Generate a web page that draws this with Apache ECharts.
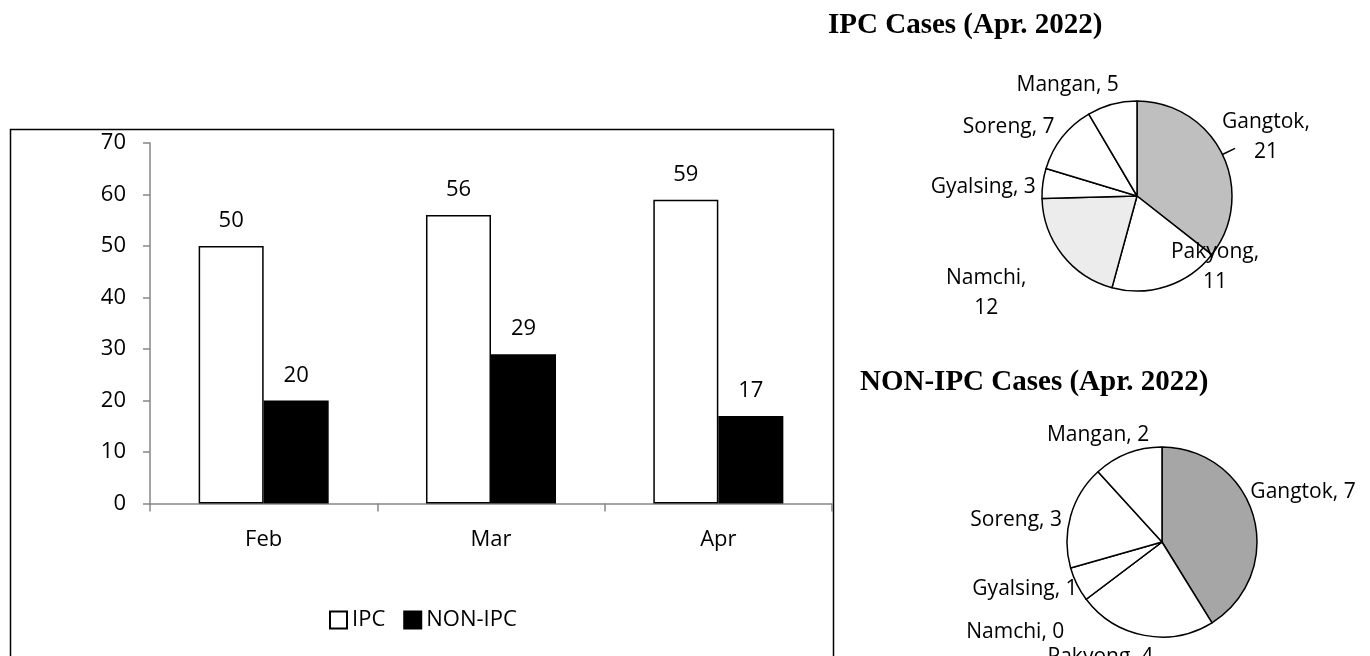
<!DOCTYPE html>
<html>
<head>
<meta charset="utf-8">
<script src="https://cdn.jsdelivr.net/npm/echarts@6/dist/echarts.min.js"></script>
<style>
html,body{margin:0;padding:0;background:#fff;}
#c{width:1370px;height:656px;}
</style>
</head>
<body>
<div id="c"></div>
<script>
// ---- data ----
const months = ['Feb', 'Mar', 'Apr'];
const ipcValues = [50, 56, 59];
const nonIpcValues = [20, 29, 17];
const yTicks = [0, 10, 20, 30, 40, 50, 60, 70];

const districts = ['Gangtok', 'Pakyong', 'Namchi', 'Gyalsing', 'Soreng', 'Mangan'];
const ipcApr = [21, 11, 12, 3, 7, 5];
const nonIpcApr = [7, 4, 0, 1, 3, 2];

const ipcTitle = 'IPC Cases (Apr. 2022)';
const nonIpcTitle = 'NON-IPC Cases (Apr. 2022)';

// ---- styling ----
const FONT = '"Open Sans", sans-serif';
const FS = 22;
const PFS = 21;
const SERIF = '"Liberation Serif", "Times New Roman", serif';
const ipcPieColors = ['#bfbfbf', '#ffffff', '#ececec', '#ffffff', '#ffffff', '#ffffff'];
const nonIpcPieColors = ['#a6a6a6', '#ffffff', '#ffffff', '#ffffff', '#ffffff', '#ffffff'];
const ipcWrap = ['Gangtok', 'Pakyong', 'Namchi'];
const ipcLineLen = [14, -22, 48, 4, 6, 12];
const nonIpcLineLen = [0, 18, 50, 6, 8, 18];
// fine label nudges (Excel-like label placement)
const ipcLabelDx = [-18, 6, 7, 2, 2, 15];
const ipcLabelDy = [-11, 2, 9, 4, -7, -8];
const nonIpcLabelDx = [-8, 17, 23, 11, 4, 33];
const nonIpcLabelDy = [-24, 4, 3, 2, 6, -2];

function pieData(vals, colors, lens, leaderFirst) {
  return districts.map((d, i) => ({
    name: d, value: vals[i],
    itemStyle: { color: colors[i] },
    labelLine: { show: leaderFirst && i === 0, length: lens[i], length2: 0,
      lineStyle: { color: '#000', width: 1.5 } }
  }));
}

const chart = echarts.init(document.getElementById('c'), null, { renderer: 'canvas' });

const option = {
  backgroundColor: '#ffffff',
  animation: false,
  textStyle: { fontFamily: FONT, color: '#000' },
  title: [
    { text: ipcTitle, left: 823, top: 6,
      textStyle: { fontFamily: SERIF, fontWeight: 'bold', fontSize: 29, color: '#000' } },
    { text: nonIpcTitle, left: 855, top: 363,
      textStyle: { fontFamily: SERIF, fontWeight: 'bold', fontSize: 29, color: '#000' } }
  ],
  graphic: [
    { type: 'rect', left: 8, top: 127, shape: { width: 823, height: 528 },
      style: { fill: 'none', stroke: '#000', lineWidth: 1.5 }, silent: true, z: -1 }
  ],
  legend: {
    data: ['IPC', 'NON-IPC'],
    left: 324, top: 604,
    itemWidth: 17, itemHeight: 17, itemGap: 18,
    icon: 'rect',
    textStyle: { fontFamily: FONT, fontSize: FS, color: '#000' }
  },
  grid: { left: 150, right: 538, top: 143, bottom: 152.5, containLabel: false },
  xAxis: {
    type: 'category', data: months,
    axisLine: { lineStyle: { color: '#868686', width: 1.5 } },
    axisTick: { show: true, length: 8, lineStyle: { color: '#868686', width: 1.5 } },
    axisLabel: { fontFamily: FONT, fontSize: FS, color: '#000', margin: 25 }
  },
  yAxis: {
    type: 'value', min: yTicks[0], max: yTicks[yTicks.length - 1], interval: 10,
    axisLine: { show: true, lineStyle: { color: '#868686', width: 1.5 } },
    axisTick: { show: true, length: 7, lineStyle: { color: '#868686', width: 1.5 } },
    splitLine: { show: false },
    axisLabel: { fontFamily: FONT, fontSize: FS, color: '#000', margin: 24 }
  },
  series: [
    { name: 'IPC', type: 'bar', data: ipcValues, barWidth: '28.6%', barGap: '0%',
      itemStyle: { color: '#ffffff', borderColor: '#000', borderWidth: 1.5 },
      label: { show: true, position: 'top', distance: 14, fontFamily: FONT, fontSize: FS, color: '#000' } },
    { name: 'NON-IPC', type: 'bar', data: nonIpcValues, barWidth: '28.6%', barGap: '0%',
      itemStyle: { color: '#000000', borderColor: '#000', borderWidth: 1.5 },
      label: { show: true, position: 'top', distance: 14, fontFamily: FONT, fontSize: FS, color: '#000' } },
    { name: 'ipcPie', type: 'pie', center: [1137, 196], radius: 95, startAngle: 90, clockwise: true,
      data: pieData(ipcApr, ipcPieColors, ipcLineLen, true),
      itemStyle: { borderColor: '#000', borderWidth: 1.5 },
      avoidLabelOverlap: false,
      label: { show: true, position: 'outside', fontFamily: FONT, fontSize: PFS, color: '#000', lineHeight: 30,
        overflow: 'none',
        rich: { t: { fontFamily: FONT, fontSize: PFS, color: '#000', lineHeight: 30, align: 'center' } },
        formatter: p => ipcWrap.includes(p.name)
          ? '{t|' + p.name + ',}\n{t|' + p.value + '}'
          : p.name + ', ' + p.value },
      labelLayout: p => ({ dx: ipcLabelDx[p.dataIndex], dy: ipcLabelDy[p.dataIndex] }),
      emphasis: { disabled: true } },
    { name: 'nonIpcPie', type: 'pie', center: [1162, 542], radius: 95, startAngle: 90, clockwise: true,
      data: pieData(nonIpcApr, nonIpcPieColors, nonIpcLineLen, false),
      itemStyle: { borderColor: '#000', borderWidth: 1.5 },
      avoidLabelOverlap: false,
      label: { show: true, position: 'outside', fontFamily: FONT, fontSize: PFS, color: '#000',
        overflow: 'none', formatter: '{b}, {c}' },
      labelLayout: p => ({ dx: nonIpcLabelDx[p.dataIndex], dy: nonIpcLabelDy[p.dataIndex] }),
      emphasis: { disabled: true } }
  ]
};
chart.setOption(option);
</script>
</body>
</html>
